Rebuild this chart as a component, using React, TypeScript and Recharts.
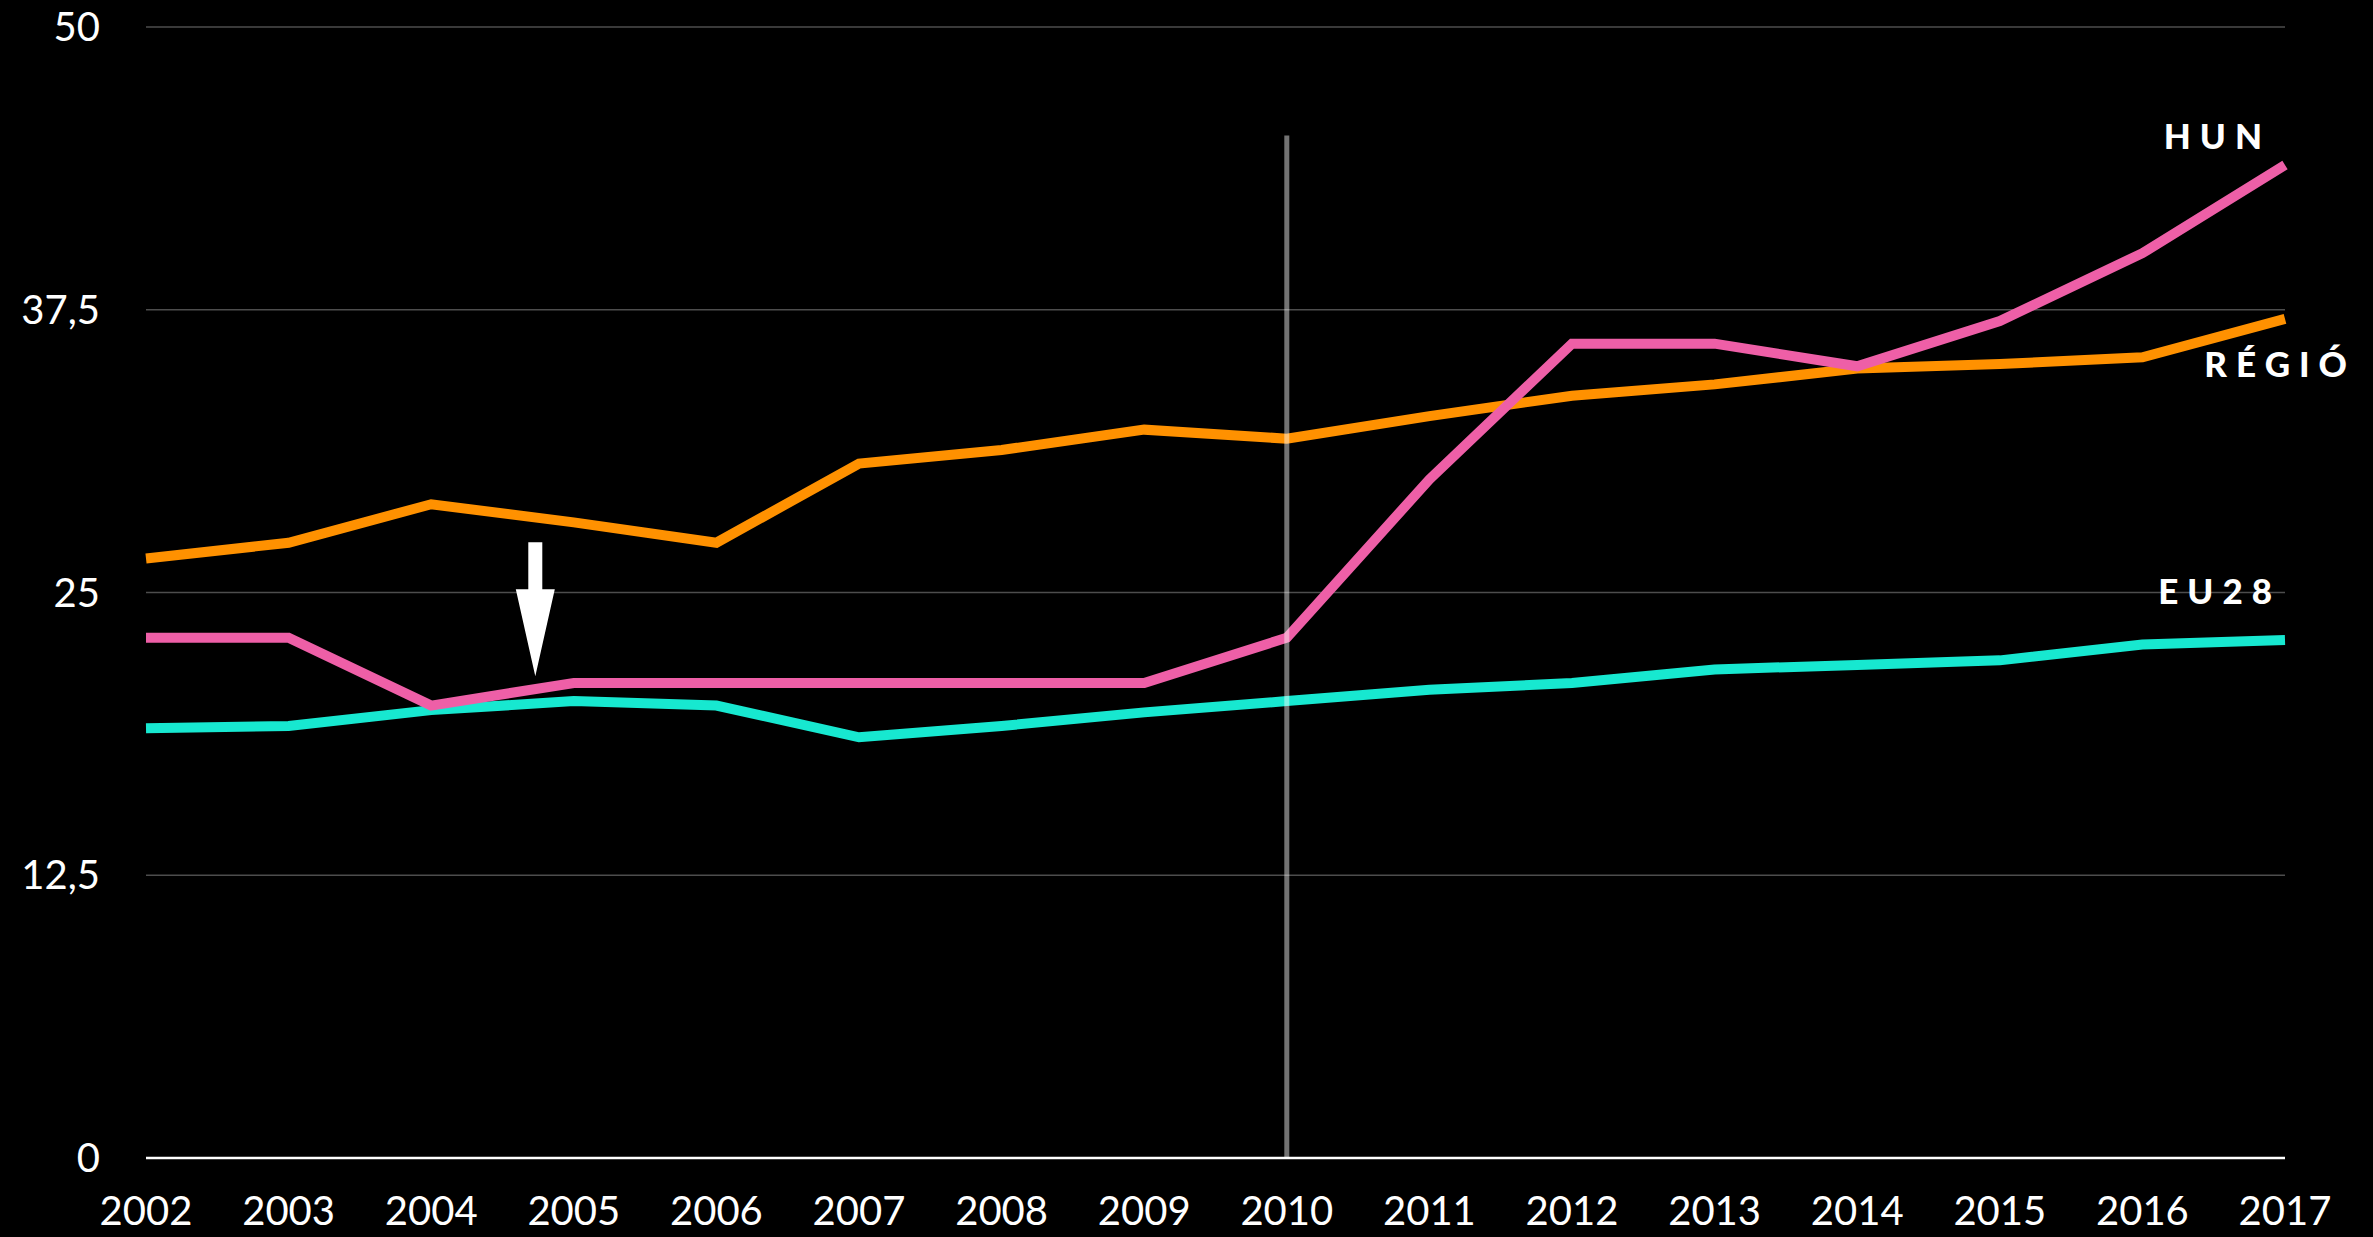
import React from "react";
import {
  LineChart,
  Line,
  XAxis,
  YAxis,
  CartesianGrid,
  ReferenceLine,
  ReferenceDot,
} from "recharts";

const years = [2002, 2003, 2004, 2005, 2006, 2007, 2008, 2009, 2010, 2011, 2012, 2013, 2014, 2015, 2016, 2017];
const hun = [23.0, 23.0, 20.0, 21.0, 21.0, 21.0, 21.0, 21.0, 23.0, 30.0, 36.0, 36.0, 35.0, 37.0, 40.0, 43.9];
const regio = [26.5, 27.2, 28.9, 28.1, 27.2, 30.7, 31.3, 32.2, 31.8, 32.8, 33.7, 34.2, 34.9, 35.1, 35.4, 37.1];
const eu28 = [19.0, 19.1, 19.8, 20.2, 20.0, 18.6, 19.1, 19.7, 20.2, 20.7, 21.0, 21.6, 21.8, 22.0, 22.7, 22.9];
const yTicks = [0, 12.5, 25, 37.5, 50];
const markerYear = 2010;
const markerTop = 45.2;
const arrowYear = 2004.73;
const arrowTip = 21.3;

const data = years.map((y, i) => ({ year: y, hun: hun[i], regio: regio[i], eu28: eu28[i] }));

const FONT = "Lato, 'Open Sans', sans-serif";

const makeEndLabel = (text: string, dx: number, dy: number) => (props: any) => {
  const { x, y, index } = props;
  if (index !== years.length - 1) return null;
  return (
    <text
      x={x + dx}
      y={y + dy}
      textAnchor="end"
      fill="#ffffff"
      fontFamily={FONT}
      fontWeight={900}
      fontSize={35}
      letterSpacing={9}
    >
      {text}
    </text>
  );
};

const Arrow = (props: any) => {
  const { cx, cy } = props;
  const d = `M ${cx} ${cy} L ${cx - 19.5} ${cy - 87} L ${cx - 7} ${cy - 87} L ${cx - 7} ${cy - 134} L ${cx + 7} ${cy - 134} L ${cx + 7} ${cy - 87} L ${cx + 19.5} ${cy - 87} Z`;
  return <path d={d} fill="#ffffff" />;
};

export default function App() {
  return (
    <div style={{ position: "fixed", left: 0, top: 0, width: 2373, height: 1237, background: "#000" }}>
      <LineChart
        width={2373}
        height={1237}
        data={data}
        margin={{ top: 27, right: 88, bottom: 0, left: 0 }}
      >
        <CartesianGrid horizontal vertical={false} stroke="#4d4d4d" strokeWidth={1.5} />
        <XAxis
          dataKey="year"
          type="number"
          domain={[2002, 2017]}
          ticks={years}
          height={79}
          tickLine={false}
          tickSize={0}
          tickMargin={39}
          axisLine={{ stroke: "#ffffff", strokeWidth: 2.5 }}
          tick={{ fill: "#ffffff", fontSize: 40, fontFamily: FONT }}
          interval={0}
        />
        <YAxis
          domain={[0, 50]}
          ticks={yTicks}
          width={146}
          axisLine={false}
          tickLine={false}
          tickSize={0}
          tickMargin={46}
          tick={{ fill: "#ffffff", fontSize: 40, fontFamily: FONT }}
          tickFormatter={(v: number) => String(v).replace(".", ",")}
        />
        <Line
          dataKey="regio"
          stroke="#ff9100"
          strokeWidth={10}
          dot={false}
          isAnimationActive={false}
          label={makeEndLabel("RÉGIÓ", 71, 58)}
        />
        <Line
          dataKey="eu28"
          stroke="#17e8d0"
          strokeWidth={10}
          dot={false}
          isAnimationActive={false}
          label={makeEndLabel("EU28", -4, -36)}
        />
        <Line
          dataKey="hun"
          stroke="#ee5fa7"
          strokeWidth={10}
          dot={false}
          isAnimationActive={false}
          label={makeEndLabel("HUN", -14, -16)}
        />
        <ReferenceLine
          segment={[
            { x: markerYear, y: 0 },
            { x: markerYear, y: markerTop },
          ]}
          stroke="#ffffff"
          strokeOpacity={0.45}
          strokeWidth={5}
        />
        <ReferenceDot x={arrowYear} y={arrowTip} shape={Arrow} />
      </LineChart>
    </div>
  );
}
